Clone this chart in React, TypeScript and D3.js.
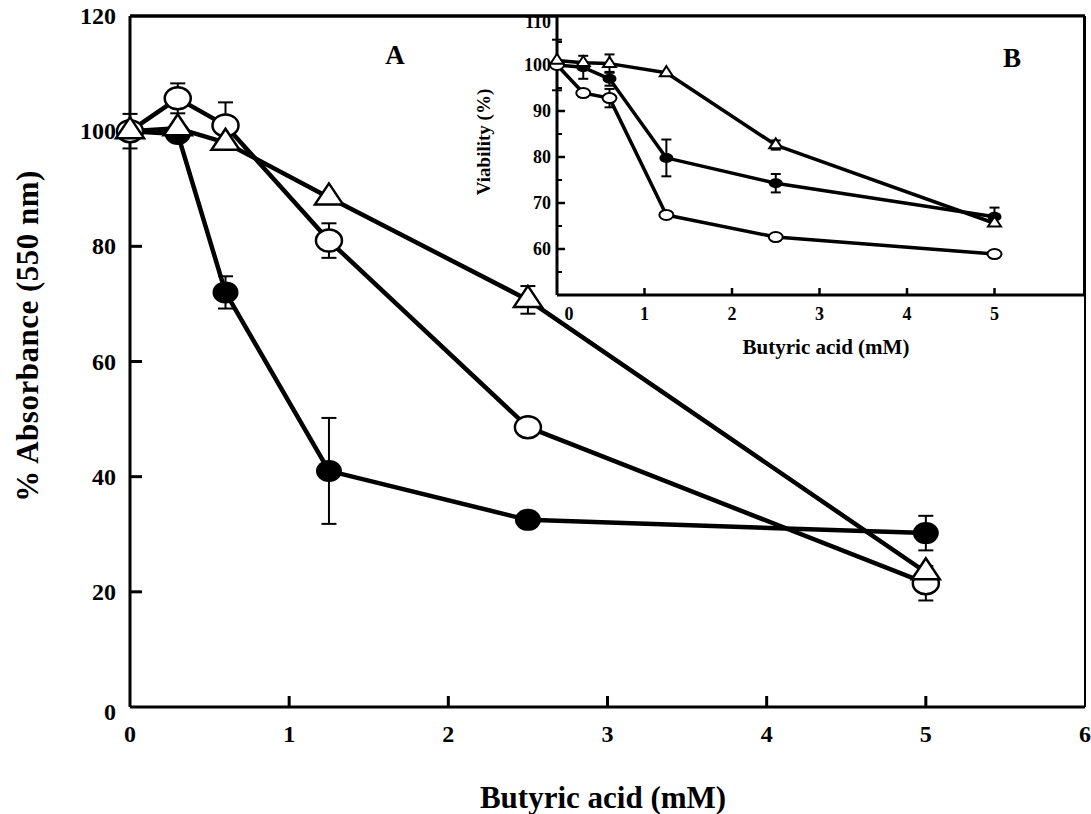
import React from 'react';
import * as d3 from 'd3';

// ---------- data ----------
const conc = [0, 0.3, 0.6, 1.25, 2.5, 5];

const mainFilled = [100, 99.5, 72, 41, 32.5, 30.2];
const mainFilledErr = [0, 0, 2.8, 9.2, 0, 3];
const mainOpen = [100, 105.7, 101, 81, 48.6, 21.5];
const mainOpenErr = [3, 2.6, 4, 3, 0, 3];
const mainTri = [100, 100.5, 98, 88.5, 70.7, 23.4];
const mainTriErr = [0, 0, 0, 0, 2.4, 0];

const insetFilled = [100, 99.5, 97, 79.8, 74.3, 67];
const insetFilledErr = [5.5, 2.5, 1.5, 4, 2, 2];
const insetOpen = [100, 93.9, 92.8, 67.4, 62.6, 58.9];
const insetOpenErr = [0, 0, 2, 0, 0, 0];
const insetTri = [101, 100.5, 100.3, 98.3, 82.6, 65.6];
const insetTriErr = [0, 0, 2, 0, 1, 0];

const mainXTicks = [0, 1, 2, 3, 4, 5, 6];
const mainYTicks = [0, 20, 40, 60, 80, 100, 120];
const insetXTicks = [0, 1, 2, 3, 4, 5];
const insetYTicks = [60, 70, 80, 90, 100, 110];
const insetYMinor = [55, 65, 75, 85, 95, 105];

const FONT = '"Liberation Serif", "Times New Roman", serif';

type Series = { vals: number[]; err: number[]; kind: 'filled' | 'open' | 'tri' };

function tri(cx: number, cy: number, w: number, h: number) {
  return `M${cx},${cy - (2 * h) / 3}L${cx - w / 2},${cy + h / 3}L${cx + w / 2},${cy + h / 3}Z`;
}

function Panel({
  series, x, y, lw, mr, mry, tw, th, capW, mstroke,
}: {
  series: Series[]; x: d3.ScaleLinear<number, number>; y: d3.ScaleLinear<number, number>;
  lw: number; mr: number; mry: number; tw: number; th: number; capW: number; mstroke: number;
}) {
  const line = d3.line<number>().x((_, i) => x(conc[i])).y((v) => y(v));
  return (
    <g>
      {series.map((s, si) => (
        <path key={'l' + si} d={line(s.vals) || ''} fill="none" stroke="#000" strokeWidth={lw} strokeLinejoin="round" />
      ))}
      {series.map((s, si) => (
        <g key={'s' + si}>
          {s.vals.map((v, i) => {
            const cx = x(conc[i]);
            const cy = y(v);
            const e = s.err[i];
            return (
              <g key={i}>
                {e > 0 && (
                  <g stroke="#000" strokeWidth={2}>
                    <line x1={cx} x2={cx} y1={y(v - e)} y2={y(v + e)} />
                    <line x1={cx - capW / 2} x2={cx + capW / 2} y1={y(v + e)} y2={y(v + e)} />
                    <line x1={cx - capW / 2} x2={cx + capW / 2} y1={y(v - e)} y2={y(v - e)} />
                  </g>
                )}
                {s.kind === 'filled' && <ellipse cx={cx} cy={cy} rx={mr} ry={mry} fill="#000" />}
                {s.kind === 'open' && (
                  <ellipse cx={cx} cy={cy} rx={mr} ry={mry} fill="#fff" stroke="#000" strokeWidth={mstroke} />
                )}
                {s.kind === 'tri' && (
                  <path d={tri(cx, cy, tw, th)} fill="#fff" stroke="#000" strokeWidth={mstroke} strokeLinejoin="miter" />
                )}
              </g>
            );
          })}
        </g>
      ))}
    </g>
  );
}

export default function App() {
  const W = 1091;
  const H = 814;
  const xM = d3.scaleLinear().domain([0, 6]).range([130, 1085]);
  const yM = d3.scaleLinear().domain([0, 120]).range([707, 16]);
  const xI = d3.scaleLinear().domain([0, 6]).range([557, 1082]);
  const yI = d3.scaleLinear().domain([50, 110]).range([295, 19]);

  const mainSeries: Series[] = [
    { vals: mainFilled, err: mainFilledErr, kind: 'filled' },
    { vals: mainOpen, err: mainOpenErr, kind: 'open' },
    { vals: mainTri, err: mainTriErr, kind: 'tri' },
  ];
  const insetSeries: Series[] = [
    { vals: insetFilled, err: insetFilledErr, kind: 'filled' },
    { vals: insetOpen, err: insetOpenErr, kind: 'open' },
    { vals: insetTri, err: insetTriErr, kind: 'tri' },
  ];

  const insetTop = 16;
  const insetBottom = yI(50);
  const insetLeft = xI(0);
  const insetRight = 1084;

  return (
    <svg width={W} height={H} style={{ position: 'absolute', left: 0, top: 0, background: '#fff' }} fontFamily={FONT} fontWeight="bold">
      <rect x={0} y={0} width={W} height={H} fill="#fff" />
      {/* main plot frame */}
      <line x1={xM(0)} x2={xM(0)} y1={yM(120)} y2={yM(0)} stroke="#000" strokeWidth={3} />
      <line x1={xM(0)} x2={xM(6)} y1={yM(0)} y2={yM(0)} stroke="#000" strokeWidth={3} />
      <line x1={xM(0)} x2={xM(6)} y1={yM(120)} y2={yM(120)} stroke="#000" strokeWidth={3} />
      <line x1={xM(6)} x2={xM(6)} y1={yM(120)} y2={yM(0)} stroke="#000" strokeWidth={2} />

      {/* main y ticks */}
      {mainYTicks.map((t) => (
        <g key={'my' + t}>
          {t > 0 && t < 120 && <line x1={xM(0)} x2={xM(0) + 12} y1={yM(t)} y2={yM(t)} stroke="#000" strokeWidth={3} />}
          <text x={xM(0) - 14} y={yM(t) + 8 + (t === 0 ? 5 : 0)} textAnchor="end" fontSize={24}>{t}</text>
        </g>
      ))}
      {/* main x ticks */}
      {mainXTicks.map((t) => (
        <g key={'mx' + t}>
          {t > 0 && t < 6 && <line x1={xM(t)} x2={xM(t)} y1={yM(0)} y2={yM(0) - 11} stroke="#000" strokeWidth={3} />}
          <text x={xM(t)} y={yM(0) + 35} textAnchor="middle" fontSize={24}>{t}</text>
        </g>
      ))}

      <Panel series={mainSeries} x={xM} y={yM} lw={4.5} mr={13} mry={11} tw={28} th={21} capW={15} mstroke={2.5} />

      {/* axis titles */}
      <text transform={`translate(38,336) rotate(-90)`} textAnchor="middle" fontSize={31} letterSpacing={0.5}>% Absorbance (550 nm)</text>
      <text x={603} y={808} textAnchor="middle" fontSize={31}>Butyric acid (mM)</text>
      <text x={395} y={64} textAnchor="middle" fontSize={27}>A</text>

      {/* inset */}
      <rect x={insetLeft} y={insetTop} width={insetRight - insetLeft} height={insetBottom - insetTop} fill="#fff" />
      <line x1={insetLeft} x2={insetLeft} y1={insetTop} y2={insetBottom} stroke="#000" strokeWidth={3} />
      <line x1={insetLeft} x2={insetRight} y1={insetBottom} y2={insetBottom} stroke="#000" strokeWidth={3} />
      <line x1={insetRight} x2={insetRight} y1={insetTop} y2={insetBottom} stroke="#000" strokeWidth={2} />
      <line x1={xM(0)} x2={xM(6)} y1={yM(120)} y2={yM(120)} stroke="#000" strokeWidth={3} />

      {insetYTicks.map((t) => (
        <g key={'iy' + t}>
          {t < 110 && <line x1={insetLeft} x2={insetLeft + 8} y1={yI(t)} y2={yI(t)} stroke="#000" strokeWidth={2.5} />}
          <text x={insetLeft - 6} y={yI(t) + 6 + (t === 110 ? 3 : 0)} textAnchor="end" fontSize={18}>{t}</text>
        </g>
      ))}
      {insetYMinor.map((t) => (
        <line key={'im' + t} x1={insetLeft} x2={insetLeft + 5} y1={yI(t)} y2={yI(t)} stroke="#000" strokeWidth={2} />
      ))}
      {insetXTicks.map((t) => (
        <g key={'ix' + t}>
          {t > 0 && <line x1={xI(t)} x2={xI(t)} y1={insetBottom} y2={insetBottom - 7} stroke="#000" strokeWidth={2.5} />}
          <text x={xI(t) + (t === 0 ? 12 : 0)} y={insetBottom + 25} textAnchor="middle" fontSize={18}>{t}</text>
        </g>
      ))}

      <Panel series={insetSeries} x={xI} y={yI} lw={3.5} mr={7} mry={5} tw={13} th={10} capW={10} mstroke={2} />

      <text transform={`translate(490,142) rotate(-90)`} textAnchor="middle" fontSize={19}>Viability (%)</text>
      <text x={826} y={354} textAnchor="middle" fontSize={21}>Butyric acid (mM)</text>
      <text x={1012} y={67} textAnchor="middle" fontSize={27}>B</text>
    </svg>
  );
}
